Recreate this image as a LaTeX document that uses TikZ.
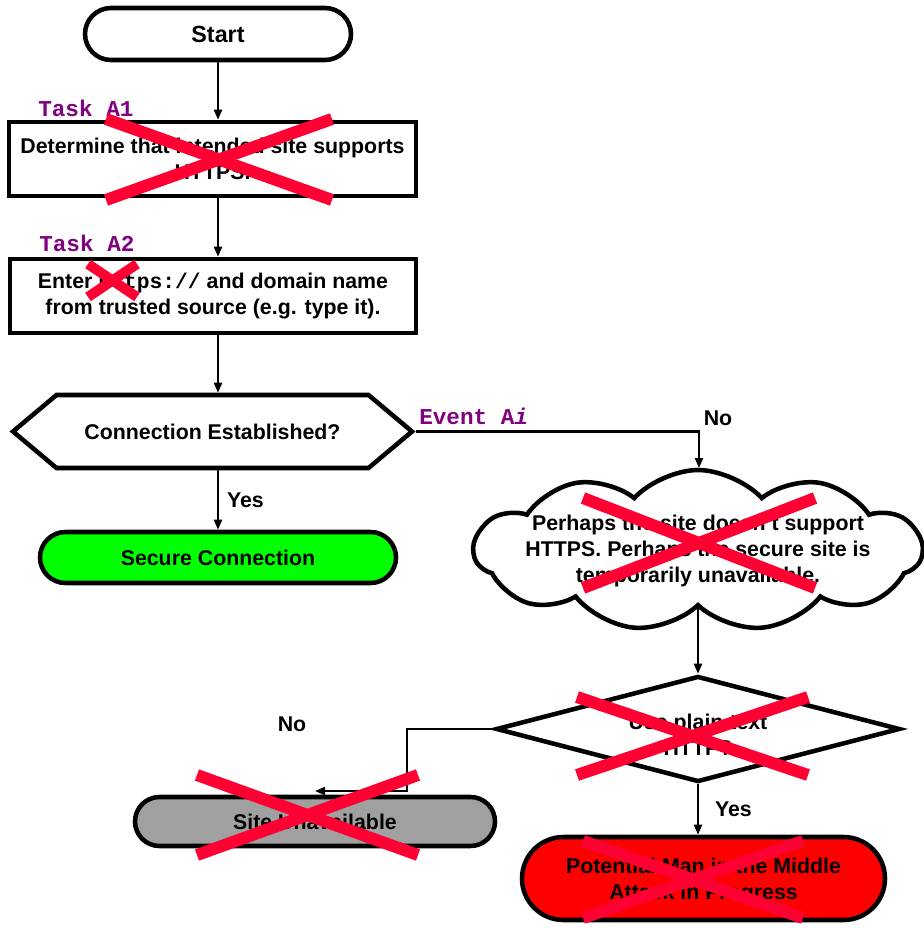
\documentclass[tikz,border=0pt]{standalone}
\usepackage{fontspec}
\setmainfont{Liberation Sans}
\newfontfamily\monofam{Liberation Mono}
\usetikzlibrary{shapes.geometric,shapes.symbols,shapes.misc,arrows.meta,calc}

\definecolor{crossred}{RGB}{255,0,51}
\definecolor{tasklabel}{RGB}{128,0,128}
\definecolor{okgreen}{RGB}{0,255,0}
\definecolor{failgray}{RGB}{160,160,160}
\definecolor{alarmred}{RGB}{255,0,0}

\tikzset{
  every node/.style={font=\bfseries\fontsize{16}{19.5}\selectfont, align=center, inner sep=0pt},
  box/.style={draw, line width=3.4pt, rectangle},
  pill/.style={draw, line width=3.4pt, rounded rectangle},
  arr/.style={line width=1.6pt, -{Triangle[length=7.5pt,width=6pt]}},
  tag/.style={font=\monofam\bfseries\fontsize{17}{20}\selectfont, text=tasklabel, anchor=west},
  cross/.style={crossred, line width=9pt},
  smallcross/.style={crossred, line width=7.5pt},
}

\begin{document}
\begin{tikzpicture}[x=0.75pt, y=-0.75pt]
  \useasboundingbox (0,0) rectangle (924,928);

  % flow chart nodes
  \node[pill, minimum width=199.5pt, minimum height=39pt,
        font=\bfseries\fontsize{17.5}{21}\selectfont] (start) at (218,34) {Start};
  \node[box, minimum width=305.25pt, minimum height=55.5pt] (a1) at (212.5,159)
    {Determine that intended site supports\\HTTPS.};
  \node[box, minimum width=304.5pt, minimum height=55.5pt] (a2) at (213,296)
    {Enter {\monofam\bfseries https://} and domain name\\from trusted source (e.g. type it).};
  \node[draw, line width=3.4pt, signal, signal to=west and east, signal pointer angle=80,
        minimum width=299.25pt, minimum height=54.75pt] (conn) at (212.5,431.5)
    {Connection Established?};
  \node[pill, fill=okgreen, minimum width=267pt, minimum height=38.25pt] (secure) at (218,557.5)
    {Secure Connection};
  \node[draw, line width=3.4pt, cloud, cloud puffs=11, cloud puff arc=95, cloud ignores aspect,
        minimum width=336pt, minimum height=120.75pt] (cloud) at (698,550.5) {};
  \node (cloudtext) at (698,551)
    {Perhaps the site doesn't support\\HTTPS. Perhaps the secure site is\\temporarily unavailable.};
  \node[draw, line width=3.4pt, diamond, minimum width=303pt, minimum height=79.5pt] (plain) at (698,729) {};
  \node (plaintext) at (698,735) {Use plain text\\HTTP?};
  \node[pill, fill=failgray, minimum width=270pt, minimum height=36.75pt] (unav) at (315,821.5)
    {Site Unavailable};
  \node[pill, fill=alarmred, minimum width=272.25pt, minimum height=62.25pt] (mitm) at (703.5,878.5) {};
  \node (mitmtext) at (703.5,881)
    {Potential Man in the Middle\\Attack in Progress};

  % tags
  \node[tag] (ta1) at (38,108) {Task A1};
  \node[tag] (ta2) at (39,243) {Task A2};
  \node[tag] (ev) at (419,416) {Event A\textit{i}};

  % connectors
  \draw[arr] (start.south) -- (start.south |- a1.north);
  \draw[arr] (a1.south -| start.south) -- (start.south |- a2.north);
  \draw[arr] (a2.south -| start.south) -- (start.south |- conn.north);
  \draw[arr] (conn.south -| start.south) -- (start.south |- secure.north)
    node[midway, right=6pt] (yes1) {Yes};
  \coordinate (cloudin) at (699,468);
  \draw[arr] (conn.east) -| (cloudin);
  \node (no1) at (718,418) {No};
  \draw[arr] (cloud.south -| plain.north) -- (plain.north);
  \coordinate (bend) at (407,791);
  \coordinate (unavin) at (315,791);
  \draw[arr] (plain.west) -| (bend) -- (unavin);
  \node (no2) at (292,724) {No};
  \draw[arr] (plain.south) -- (plain.south |- mitm.north)
    node[midway, right=12pt] (yes2) {Yes};

  % struck-out steps
  \draw[cross] (106,119) -- (332,200);
  \draw[cross] (106,200) -- (332,119);
  \draw[smallcross] (88,264) -- (137,297);
  \draw[smallcross] (88,297) -- (137,264);
  \draw[cross] (583,498) -- (815,588);
  \draw[cross] (583,588) -- (815,498);
  \draw[cross] (577,697) -- (808,775);
  \draw[cross] (577,775) -- (808,697);
  \draw[cross] (197,775) -- (418,855);
  \draw[cross] (197,855) -- (418,775);
  \draw[cross] (583,841) -- (803,918);
  \draw[cross] (583,918) -- (803,841);
\end{tikzpicture}
\end{document}
